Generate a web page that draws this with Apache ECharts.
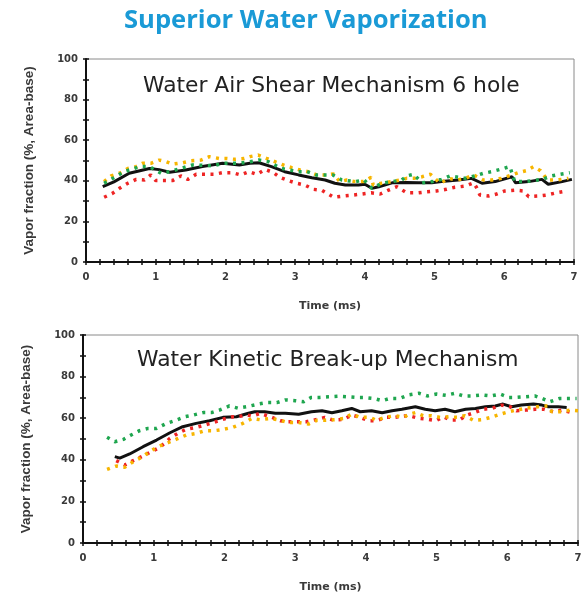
<!DOCTYPE html>
<html>
<head>
<meta charset="utf-8">
<script src="https://cdn.jsdelivr.net/npm/echarts@6/dist/echarts.min.js"></script>
<style>
html,body{margin:0;padding:0;background:#fff;}
#c{width:585px;height:594px;}
</style>
</head>
<body>
<div id="c"></div>
<script>
// ---------- data (time ms, vapor fraction %) ----------
const mainTitle = 'Superior Water Vaporization';
const topTitle = 'Water Air Shear Mechanism 6 hole';
const botTitle = 'Water Kinetic Break-up Mechanism';
const yName = 'Vapor fraction (%, Area-base)';
const xName = 'Time (ms)';

const topBlack = [[0.24,37.1],[0.4,39.5],[0.62,43.7],[0.91,46.1],[1.05,45.5],[1.2,44.2],[1.43,45.3],[1.67,47],[1.96,48.6],[2.2,47.8],[2.35,48.6],[2.48,48.9],[2.66,47],[2.85,44.5],[3.05,42.9],[3.24,41.5],[3.43,40.4],[3.57,38.8],[3.72,37.9],[3.91,37.9],[4.0,38.3],[4.1,36.3],[4.2,37.1],[4.39,39],[4.6,39.2],[4.77,39],[4.96,39],[5.1,39.6],[5.34,40.4],[5.53,41.2],[5.68,38.8],[5.87,39.6],[6.11,42],[6.16,39],[6.35,39.6],[6.54,40.7],[6.63,38.3],[6.83,39.6],[6.97,40.7]];
const topGreen = [[0.26,38.8],[0.4,41.5],[0.55,44.5],[0.77,47],[0.91,47],[1.08,43.7],[1.2,44.5],[1.35,46],[1.53,47.8],[1.83,47.4],[1.96,48.6],[2.2,48.6],[2.35,49.4],[2.48,50.2],[2.62,49.4],[2.8,46.1],[3.05,44.5],[3.17,44.5],[3.3,42.9],[3.42,42.9],[3.54,42.9],[3.67,40.4],[3.86,39.6],[3.99,40.4],[4.1,36.3],[4.25,38.8],[4.39,39.6],[4.53,40.4],[4.6,42.4],[4.7,43.2],[4.82,39],[4.97,39.6],[5.1,40.7],[5.22,42.4],[5.44,41.2],[5.58,42.4],[5.7,43.7],[5.82,44.5],[5.94,45.6],[6.08,47],[6.15,39.6],[6.3,39.6],[6.54,40.7],[6.68,42.4],[6.8,43.2],[6.94,44]];
const topYellow = [[0.26,39.6],[0.36,42.4],[0.48,43.7],[0.6,46.1],[0.72,47],[0.81,48.6],[0.93,48.6],[1.05,50.2],[1.15,49.4],[1.24,48.2],[1.39,48.9],[1.51,49.9],[1.65,50.2],[1.77,51.9],[1.91,51],[2.01,51],[2.13,50.6],[2.27,51],[2.35,51.9],[2.47,52.7],[2.59,51],[2.71,49.4],[2.83,47.8],[2.95,46.5],[3.07,45.3],[3.19,44.5],[3.31,42.9],[3.43,42.9],[3.55,43.4],[3.64,39.6],[3.74,40.4],[3.86,39.6],[3.98,39.6],[4.09,41.7],[4.12,37.9],[4.24,38.8],[4.39,39.6],[4.51,40.4],[4.6,41.2],[4.7,41.2],[4.82,42],[4.94,43.2],[5.08,38.8],[5.2,41.2],[5.32,40.4],[5.44,41.2],[5.56,42.9],[5.7,40.4],[5.82,40.4],[5.96,41.2],[6.11,42.9],[6.2,44],[6.32,45],[6.42,47],[6.52,45],[6.62,40.4],[6.76,40.4],[6.92,41.2]];
const topRed = [[0.26,31.9],[0.38,33.8],[0.48,36.3],[0.6,38.8],[0.72,40.7],[0.84,40.4],[0.93,42.9],[1.0,40.1],[1.12,40.1],[1.24,40.1],[1.36,42.4],[1.46,40.7],[1.58,43.2],[1.7,43.2],[1.84,43.2],[1.96,44],[2.1,44],[2.22,42.9],[2.34,44.5],[2.45,43.2],[2.57,45.6],[2.69,44],[2.78,41.7],[2.9,40.1],[3.02,38.8],[3.14,37.9],[3.26,35.8],[3.38,35.4],[3.55,31.9],[3.69,32.5],[3.84,33],[3.96,33.5],[4.09,34.1],[4.22,33.5],[4.34,35.4],[4.46,37.1],[4.6,34.1],[4.77,34.1],[4.89,34.6],[5.03,35],[5.17,35.8],[5.29,36.8],[5.44,37.4],[5.56,39],[5.6,36.8],[5.65,33],[5.77,32.5],[5.89,33.5],[6.01,35],[6.15,35.4],[6.27,35],[6.35,32.2],[6.49,32.5],[6.61,33],[6.75,34.1],[6.9,35]];

const botBlack = [[0.45,41.5],[0.52,40.8],[0.66,42.8],[0.85,46.3],[1.04,49.5],[1.23,53],[1.41,55.9],[1.6,57.5],[1.79,58.8],[1.98,60.4],[2.17,60.7],[2.34,62.4],[2.43,63.1],[2.57,63.1],[2.72,62.4],[2.86,62.4],[3.05,61.9],[3.23,63.1],[3.38,63.6],[3.52,62.6],[3.66,63.6],[3.8,64.7],[3.92,63.1],[4.08,63.6],[4.23,62.6],[4.37,63.6],[4.51,64.3],[4.7,65.5],[4.84,64.3],[4.98,63.6],[5.12,64.3],[5.26,63.1],[5.41,64.3],[5.55,64.7],[5.69,65.5],[5.83,65.9],[5.94,66.8],[6.06,65.5],[6.2,66.3],[6.37,66.8],[6.49,66.3],[6.58,65.5],[6.72,65.5],[6.84,65.2]];
const botGreen = [[0.34,50.8],[0.45,48.7],[0.57,49.8],[0.68,51.9],[0.8,54],[0.92,55.1],[1.04,55.1],[1.18,57.5],[1.32,59.1],[1.44,60.7],[1.56,61.5],[1.7,62.7],[1.82,62.7],[1.93,63.9],[2.07,65.9],[2.19,64.8],[2.31,65.5],[2.48,66.8],[2.6,67.5],[2.74,67.5],[2.86,68.8],[3.0,68.4],[3.12,67.9],[3.23,70],[3.35,70],[3.47,70.3],[3.61,70.6],[3.73,70.3],[3.85,70],[3.97,70],[4.11,69.5],[4.23,68.4],[4.34,69.5],[4.48,69.5],[4.6,71.2],[4.75,72],[4.87,70.7],[5.0,71.6],[5.13,71],[5.26,72],[5.38,70.7],[5.5,70.7],[5.64,71.2],[5.77,70.7],[5.9,71.6],[6.02,70],[6.13,70],[6.25,70.3],[6.39,70.7],[6.49,69.5],[6.6,67.9],[6.74,69.5],[6.86,69.5],[6.98,69.5]];
const botYellow = [[0.34,35.4],[0.47,37],[0.59,36.4],[0.71,39.1],[0.83,41.2],[0.94,43.9],[1.06,46.3],[1.2,48.2],[1.32,49.9],[1.46,51.9],[1.6,52.7],[1.72,54],[1.86,54],[1.98,54.6],[2.12,55.6],[2.26,57.5],[2.39,59.9],[2.5,59.3],[2.65,59.9],[2.79,59],[2.9,57.9],[3.05,57.9],[3.19,57.2],[3.31,59],[3.42,59],[3.56,59.3],[3.7,59.9],[3.8,62],[3.92,60.4],[4.06,60.4],[4.15,59],[4.27,60.4],[4.41,61.2],[4.53,60.4],[4.62,62],[4.7,62.7],[4.81,61.2],[4.93,61.2],[5.05,60.4],[5.17,60.7],[5.29,60.4],[5.4,61.2],[5.52,59],[5.64,59.3],[5.77,60.4],[5.9,61.9],[6.02,63.1],[6.13,63.9],[6.25,64.7],[6.37,65.2],[6.49,65.9],[6.58,65.9],[6.63,63.1],[6.75,63.1],[6.89,63.9],[7.0,63.6]];
const botRed = [[0.47,39.6],[0.59,37.5],[0.71,39.6],[0.83,41.5],[0.94,43.4],[1.06,45.5],[1.15,47.8],[1.23,50.3],[1.34,52.7],[1.46,54.7],[1.6,55.6],[1.72,56.7],[1.84,57.9],[1.98,59.5],[2.12,60.7],[2.24,61],[2.33,61.5],[2.39,61],[2.5,62.3],[2.65,60.7],[2.79,58.8],[2.9,58.3],[3.05,58.3],[3.16,58.3],[3.31,59.4],[3.42,60.4],[3.54,59.1],[3.68,59.4],[3.8,61.5],[3.92,60.4],[4.04,58.8],[4.15,58.8],[4.29,60.4],[4.41,60.4],[4.54,61],[4.63,61],[4.75,59.9],[4.87,59.5],[4.99,58.8],[5.1,60.7],[5.2,59.1],[5.32,59.1],[5.43,61.5],[5.54,62.7],[5.66,64.3],[5.79,64.8],[5.92,66.3],[6.04,65.5],[6.13,63.6],[6.26,63.9],[6.39,64.3],[6.52,64.3],[6.65,63.1],[6.77,63.9],[6.91,62.7]];

// ---------- chart ----------
const lblFont = {fontFamily:'DejaVu Sans', fontWeight:'bold', fontSize:10, color:'#3a3a3a'};
function xAxes(gi){
  return [
    {type:'value', gridIndex:gi, min:0, max:7, interval:1, position:'bottom',
     axisLine:{show:true, onZero:false, lineStyle:{color:'#111', width:2}},
     axisTick:{show:true, inside:false, length:3, lineStyle:{color:'#111', width:1.5}},
     minorTick:{show:true, splitNumber:5, length:3, lineStyle:{color:'#111', width:1.5}},
     axisLabel:Object.assign({margin:10}, lblFont),
     splitLine:{show:false},
     name:xName, nameLocation:'middle', nameGap:39,
     nameTextStyle:{fontFamily:'DejaVu Sans', fontWeight:'bold', fontSize:11, color:'#3a3a3a'}},
    {type:'value', gridIndex:gi, min:0, max:7, interval:1, position:'bottom',
     axisLine:{show:false, onZero:false},
     axisTick:{show:true, inside:true, length:3, lineStyle:{color:'#111', width:1.5}},
     minorTick:{show:true, splitNumber:5, length:3, lineStyle:{color:'#111', width:1.5}},
     axisLabel:{show:false}, splitLine:{show:false}}
  ];
}
function yAxes(gi){
  return [
    {type:'value', gridIndex:gi, min:0, max:100, interval:20, position:'left',
     axisLine:{show:true, onZero:false, lineStyle:{color:'#111', width:2}},
     axisTick:{show:true, inside:false, length:3, lineStyle:{color:'#111', width:1.5}},
     minorTick:{show:true, splitNumber:2, length:3, lineStyle:{color:'#111', width:1.5}},
     axisLabel:Object.assign({margin:8}, lblFont),
     splitLine:{show:false},
     name:yName, nameLocation:'middle', nameGap:50, nameRotate:90,
     nameTextStyle:{fontFamily:'Liberation Sans', fontWeight:'bold', fontSize:13.5, color:'#3a3a3a'}},
    {type:'value', gridIndex:gi, min:0, max:100, interval:20, position:'left',
     axisLine:{show:false, onZero:false},
     axisTick:{show:true, inside:true, length:3, lineStyle:{color:'#111', width:1.5}},
     minorTick:{show:true, splitNumber:2, length:3, lineStyle:{color:'#111', width:1.5}},
     axisLabel:{show:false}, splitLine:{show:false}}
  ];
}
function dotted(data, color, xi, yi){
  return {type:'line', xAxisIndex:xi, yAxisIndex:yi, data:data, showSymbol:false, smooth:false,
    lineStyle:{color:color, width:3.5, type:[3,5.5], cap:'butt'}, silent:true, z:3};
}
function solid(data, xi, yi){
  return {type:'line', xAxisIndex:xi, yAxisIndex:yi, data:data, showSymbol:false,
    lineStyle:{color:'#111', width:3}, silent:true, z:2};
}
const GREEN='#1fa64f', YELLOW='#f7b500', RED='#ee2424';

const chart = echarts.init(document.getElementById('c'), null, {renderer:'canvas'});
chart.setOption({
  animation:false,
  backgroundColor:'#fff',
  title:[
    {text:mainTitle, left:124, top:8, padding:0,
     textStyle:{fontFamily:'Open Sans', fontWeight:'bold', fontSize:25.6, color:'#1a9ad6'}},
    {text:topTitle, left:143, top:75, padding:0,
     textStyle:{fontFamily:'DejaVu Sans', fontWeight:'normal', fontSize:21.8, color:'#222'}},
    {text:botTitle, left:137, top:349, padding:0,
     textStyle:{fontFamily:'DejaVu Sans', fontWeight:'normal', fontSize:21.8, color:'#222'}}
  ],
  grid:[
    {left:86, top:59, width:488, height:203, show:true, borderColor:'#8a8a8a', borderWidth:1, backgroundColor:'transparent'},
    {left:83, top:335, width:495, height:208, show:true, borderColor:'#8a8a8a', borderWidth:1, backgroundColor:'transparent'}
  ],
  xAxis:[...xAxes(0), ...xAxes(1)],
  yAxis:[...yAxes(0), ...yAxes(1)],
  series:[
    solid(topBlack,0,0),
    dotted(topRed,RED,0,0),
    dotted(topYellow,YELLOW,0,0),
    dotted(topGreen,GREEN,0,0),
    solid(botBlack,2,2),
    dotted(botRed,RED,2,2),
    dotted(botYellow,YELLOW,2,2),
    dotted(botGreen,GREEN,2,2)
  ]
});
</script>
</body>
</html>
